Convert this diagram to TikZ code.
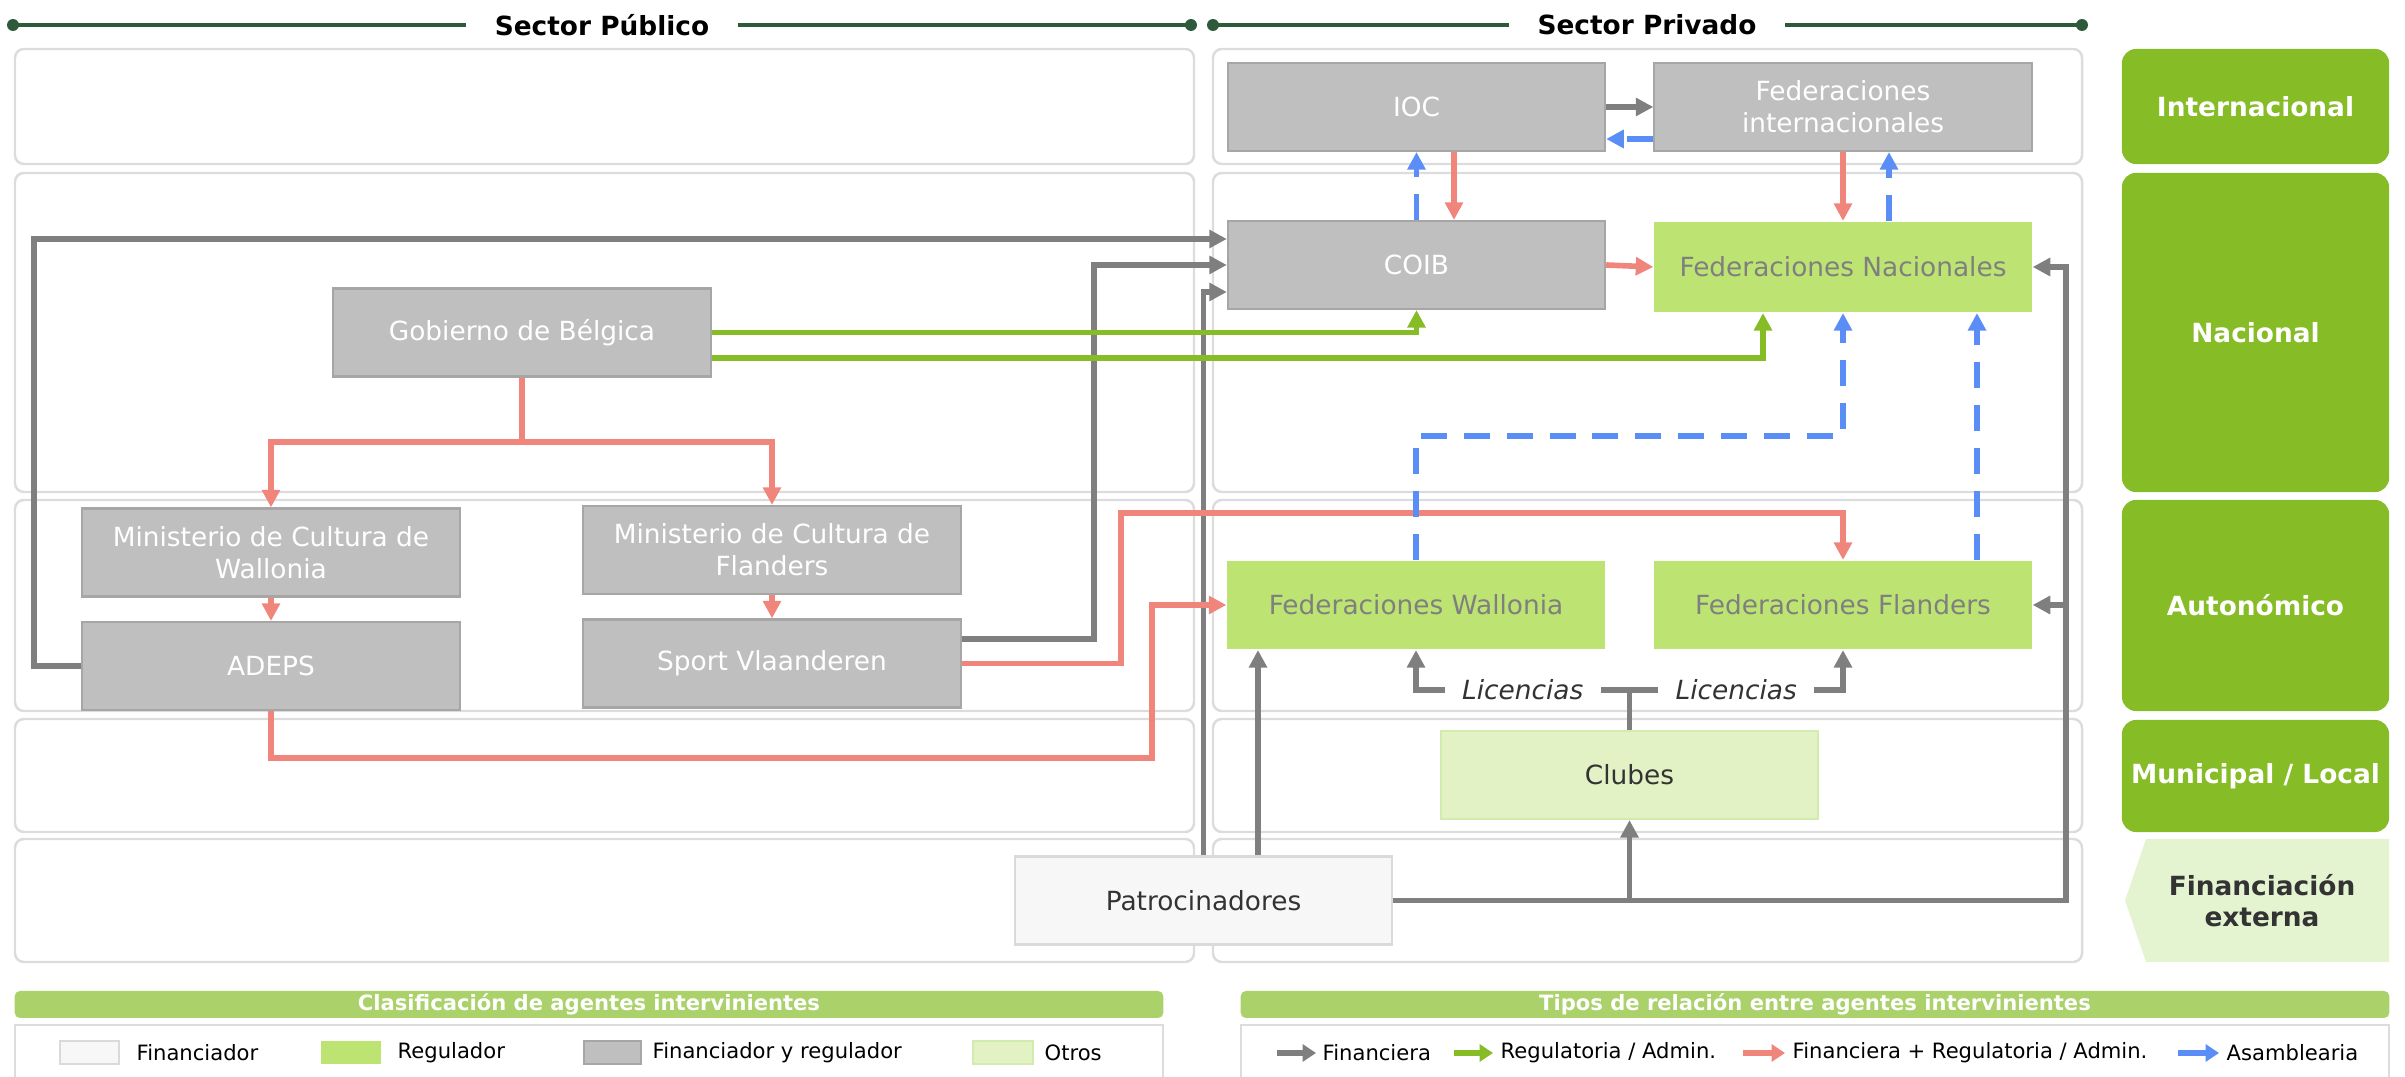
\documentclass[tikz,border=0pt]{standalone}
\usepackage{fontspec}
\setmainfont{DejaVu Sans}
\usetikzlibrary{arrows.meta}
\definecolor{boxgray}{HTML}{BFBFBF}
\definecolor{boxline}{HTML}{A6A6A6}
\definecolor{regfill}{HTML}{BDE472}
\definecolor{othfill}{HTML}{E2F2C5}
\definecolor{othline}{HTML}{D2EBAE}
\definecolor{finfill}{HTML}{F7F7F7}
\definecolor{finline}{HTML}{DADADA}
\definecolor{fedtext}{HTML}{7F7F7F}
\definecolor{darktext}{HTML}{333333}
\definecolor{lvlgreen}{HTML}{86BC25}
\definecolor{extfill}{HTML}{E5F4D0}
\definecolor{legfill}{HTML}{ABD16B}
\definecolor{hdgreen}{HTML}{2D5A3A}
\definecolor{panelline}{HTML}{DCDCDC}
\definecolor{arrgray}{HTML}{7F7F7F}
\definecolor{arrgreen}{HTML}{86BC25}
\definecolor{arrred}{HTML}{F0857C}
\definecolor{arrblue}{HTML}{5B8DF6}
\newcommand\nodefont{\fontsize{7.5}{9}\selectfont}
\newcommand\legfont{\fontsize{6}{7}\selectfont}
\tikzset{
  agent/.style={minimum width=3.77cm, minimum height=0.88cm, inner sep=2pt,
    align=center, font=\nodefont, line width=0.6pt},
  frbox/.style={agent, fill=boxgray, draw=boxline, text=white},
  regbox/.style={agent, fill=regfill, text=fedtext},
  othbox/.style={agent, fill=othfill, draw=othline, text=darktext},
  finbox/.style={agent, fill=finfill, draw=finline, text=darktext},
  link/.style={line width=1.6pt, -{Triangle[length=5pt,width=5pt]}},
  fin/.style={link, draw=arrgray},
  reg/.style={link, draw=arrgreen},
  finreg/.style={link, draw=arrred},
  asam/.style={link, draw=arrblue, dash pattern=on 7.4pt off 4.8pt},
  panel/.style={draw=panelline, line width=0.7pt, rounded corners=2.5pt},
  lvl/.style={fill=lvlgreen, text=white, rounded corners=4pt, minimum width=2.67cm,
    font=\nodefont\bfseries, align=center, inner sep=0pt},
  headtxt/.style={font=\nodefont\bfseries, inner xsep=8pt},
  hdline/.style={draw=hdgreen, line width=1pt},
  licstyle/.style={fill=white, text=darktext, font=\nodefont\itshape, inner xsep=5pt, inner ysep=1pt},
  leghead/.style={fill=legfill, text=white, font=\legfont\bfseries, rounded corners=1.5pt,
    minimum width=11.48cm, minimum height=0.27cm, inner sep=0pt},
  legbox/.style={draw=panelline, line width=0.7pt},
  legtxt/.style={font=\legfont, anchor=west, inner sep=0pt},
  legarrow/.style={line width=1.9pt, -{Triangle[length=3.8pt,width=4.8pt]}},
}
\begin{document}
\begin{tikzpicture}[x=0.01cm,y=-0.01cm]
\useasboundingbox (0,0) rectangle (2405,1077);

% sector headers
\node[headtxt] (pubhead) at (602,25) {Sector Público};
\node[headtxt] (privhead) at (1647,25) {Sector Privado};
\draw[hdline] (13,25) -- (pubhead.west); \draw[hdline] (pubhead.east) -- (1191,25);
\draw[hdline] (1213,25) -- (privhead.west); \draw[hdline] (privhead.east) -- (2082,25);
\foreach \x in {13,1191,1213,2082} \fill[hdgreen] (\x,25) circle[radius=1.7pt];

% level panels
\foreach \ya/\yb in {49/164,173/492,500/711,719/832,839/962}{
  \draw[panel] (15,\ya) rectangle (1194,\yb);
  \draw[panel] (1213,\ya) rectangle (2082,\yb);
}

% level labels
\node[lvl, minimum height=1.15cm] (lint) at (2255.5,106.5) {Internacional};
\node[lvl, minimum height=3.19cm] (lnac) at (2255.5,332.5) {Nacional};
\node[lvl, minimum height=2.11cm] (laut) at (2255.5,605.5) {Autonómico};
\node[lvl, minimum height=1.12cm] (lmun) at (2255.5,776) {Municipal / Local};
\fill[extfill] (2146,839) -- (2389,839) -- (2389,962) -- (2146,962) -- (2125,900.5) -- cycle;
\node[font=\nodefont\bfseries, text=darktext, align=center] (lext) at (2262,900.5) {Financiación\\externa};

% agents
\node[frbox] (ioc) at (1416.5,107) {IOC};
\node[frbox] (fedint) at (1843,107) {Federaciones\\internacionales};
\node[frbox] (coib) at (1416.5,265) {COIB};
\node[regbox, minimum height=0.9cm] (fednac) at (1843,267) {Federaciones Nacionales};
\node[frbox] (gob) at (522,332.5) {Gobierno de Bélgica};
\node[frbox] (minwal) at (271,552.5) {Ministerio de Cultura de\\Wallonia};
\node[frbox] (minfla) at (772,550) {Ministerio de Cultura de\\Flanders};
\node[frbox] (adeps) at (271,666) {ADEPS};
\node[frbox] (sportvl) at (772,663.5) {Sport Vlaanderen};
\node[regbox] (fedwal) at (1416,605) {Federaciones Wallonia};
\node[regbox] (fedfla) at (1843,605) {Federaciones Flanders};
\node[othbox] (clubes) at (1629.5,775) {Clubes};
\node[finbox] (patro) at (1203.5,900.5) {Patrocinadores};

% financiera
\draw[fin] (adeps.west) -| (34,239) -- (coib.west |- 0,239);
\draw[fin] (sportvl.east |- 0,639) -| (1094,265) -- (coib.west);
\draw[fin] (patro.north) |- (coib.west |- 0,292);
\draw[fin] (patro.north -| 1258,0) -- (fedwal.south -| 1258,0);
\draw[fin] (patro.east) -| (fednac.east -| 2066,0) -- (fednac.east);
\draw[fin] (fedfla.east -| 2066,0) -- (fedfla.east);
\draw[fin] (patro.east -| clubes.south) -- (clubes.south);
\draw[fin] (ioc.east) -- (fedint.west);
\coordinate (licsplit) at (clubes.north |- 0,690);
\draw[arrgray, line width=1.6pt] (clubes.north) -- (licsplit);
\draw[fin] (licsplit) -| node[licstyle, pos=0.25] (licwal) {Licencias} (fedwal.south);
\draw[fin] (licsplit) -| node[licstyle, pos=0.25] (licfla) {Licencias} (fedfla.south);

% regulatoria
\draw[reg] (gob.east) -| (coib.south);
\draw[reg] (gob.east |- 0,358) -| (fednac.south -| 1763,0);

% financiera + regulatoria
\draw[finreg] (gob.south) -- (522,442) -| (minwal.north);
\draw[finreg] (522,442) -| (minfla.north);
\draw[finreg] (minwal) -- (adeps);
\draw[finreg] (minfla) -- (sportvl);
\draw[finreg] (sportvl.east) -| (1121,513) -| (fedfla.north);
\draw[finreg] (adeps.south) |- (1152,758) |- (fedwal.west);
\draw[finreg] (ioc.south -| 1454,0) -- (coib.north -| 1454,0);
\draw[finreg] (fedint.south) -- (fednac.north);
\draw[finreg] (coib.east) -- (fednac.west);

% asamblearia
\draw[asam] (fedint.west |- 0,139) -- (ioc.east |- 0,139);
\draw[asam] (coib.north) -- (ioc.south);
\draw[asam] (fednac.north -| 1889,0) -- (fedint.south -| 1889,0);
\draw[asam] (fedwal.north) |- (1843,436) -- (fednac.south);
\draw[asam] (fedfla.north -| 1977,0) -- (fednac.south -| 1977,0);

% legend: agents
\node[leghead] (clashead) at (589,1004.5) {Clasificación de agentes intervinientes};
\draw[legbox] (15,1025) rectangle (1163,1100);
\draw[fill=finfill, draw=finline, line width=0.6pt] (60,1041) rectangle (119,1064);
\node[legtxt] (legfin) at (136,1053) {Financiador};
\fill[regfill] (321,1041) rectangle (381,1064);
\node[legtxt] (legreg) at (397,1053) {Regulador};
\draw[fill=boxgray, draw=boxline, line width=0.6pt] (584,1041) rectangle (641,1064);
\node[legtxt] (legfr) at (652,1053) {Financiador y regulador};
\draw[fill=othfill, draw=othline, line width=0.6pt] (973,1041) rectangle (1033,1064);
\node[legtxt] (legoth) at (1044,1053) {Otros};

% legend: relations
\node[leghead] (relhead) at (1815,1004.5) {Tipos de relación entre agentes intervinientes};
\draw[legbox] (1241,1025) rectangle (2389,1100);
\draw[legarrow, arrgray] (1277,1053) -- (1316,1053);
\node[legtxt] (legfina) at (1322,1053) {Financiera};
\draw[legarrow, arrgreen] (1454,1053) -- (1493,1053);
\node[legtxt] (legrega) at (1500,1053) {Regulatoria / Admin.};
\draw[legarrow, arrred] (1743,1053) -- (1785,1053);
\node[legtxt] (legfra) at (1792,1053) {Financiera + Regulatoria / Admin.};
\draw[legarrow, arrblue] (2178,1053) -- (2219,1053);
\node[legtxt] (legasa) at (2226,1053) {Asamblearia};
\end{tikzpicture}
\end{document}
